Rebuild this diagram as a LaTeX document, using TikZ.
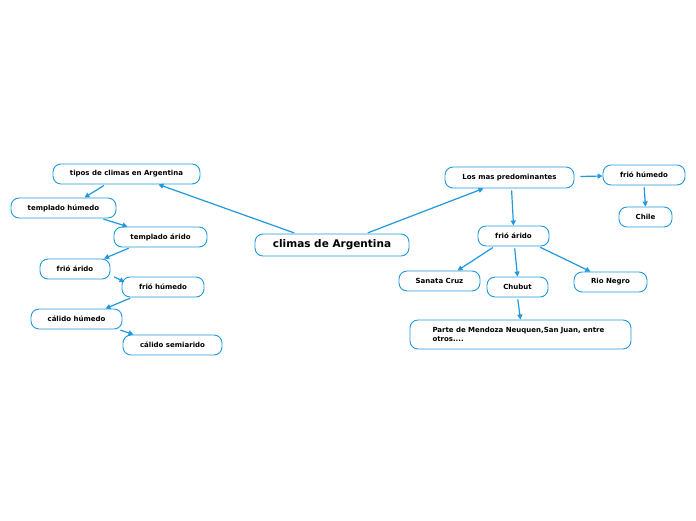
\documentclass[tikz,border=0pt]{standalone}
\usepackage{fontspec}
\setmainfont{DejaVu Sans}
\usepackage{tikz}
\usetikzlibrary{arrows.meta,positioning,calc}
\definecolor{mmblue}{RGB}{30,152,222}

\begin{document}
\begin{tikzpicture}[x=1pt, y=-1pt,
    topic/.style={rectangle, draw=mmblue, line width=0.9pt, rounded corners=8pt, minimum height=20pt, inner sep=2pt, font=\fontsize{7}{8.5}\selectfont\bfseries},
    link/.style={-{Triangle[length=5pt,width=5pt]}, draw=mmblue, line width=1.2pt, shorten <=2pt}
]
\useasboundingbox (0,0) rectangle (696,520);

% centre
\node[topic, minimum width=154pt, minimum height=22pt, font=\fontsize{10.5}{12}\selectfont\bfseries] (root) at (332,245) {climas de Argentina};

% left branch
\node[topic, minimum width=147pt] (tipos) at (126.5,174) {tipos de climas en Argentina};
\node[topic, minimum width=105pt] (tplhum) at (63.5,208) {templado húmedo};
\node[topic, minimum width=93pt] (tplari) at (160.5,237) {templado árido};
\node[topic, minimum width=70pt] (frari) at (75,269) {frió árido};
\node[topic, minimum width=82pt] (frhum) at (163,287) {frió húmedo};
\node[topic, minimum width=91pt] (calhum) at (76.5,319) {cálido húmedo};
\node[topic, minimum width=99pt] (calsemi) at (172.5,345) {cálido semiarido};

% right branch
\node[topic, minimum width=129pt, minimum height=21pt] (pred) at (509.5,177.5) {Los mas predominantes};
\node[topic, minimum width=82pt] (frhumR) at (644,175) {frió húmedo};
\node[topic, minimum width=53pt] (chile) at (645.5,217) {Chile};
\node[topic, minimum width=71pt] (frariR) at (513.5,236) {frió árido};
\node[topic, minimum width=81pt] (santa) at (439.5,281) {Sanata Cruz};
\node[topic, minimum width=61pt] (chubut) at (517.5,287) {Chubut};
\node[topic, minimum width=73pt] (rionegro) at (610.5,282) {Rio Negro};
\node[topic, minimum width=221pt, minimum height=29pt, text width=176pt, align=left] (mendoza) at (520.5,334.5) {Parte de Mendoza Neuquen,San Juan, entre\\otros....};

% connectors
\draw[link] ($(root.north)+(-36,0)$) -- ($(tipos.south east)+(-42,0)$);
\draw[link] ($(root.north)+(34,0)$) -- ($(pred.south)+(-26,0)$);

\draw[link] ($(tipos.south)+(-21,0)$) -- ($(tplhum.north)+(21,0)$);
\draw[link] ($(tplhum.south)+(38,0)$) -- ($(tplari.north)+(-33,0)$);
\draw[link] ($(tplari.south)+(-30,0)$) -- ($(frari.north)+(29,0)$);
\draw[link] ($(frari.east)+(2,7)$) -- ($(frhum.west)+(3,-5)$);
\draw[link] ($(frhum.south)+(-31,0)$) -- ($(calhum.north)+(29,0)$);
\draw[link] ($(calhum.south east)+(-4,0)$) -- ($(calsemi.north west)+(11,0)$);

\draw[link] ($(pred.south)+(2,0)$) -- (frariR.north);
\draw[link] ($(pred.east)+(4,-1)$) -- ($(frhumR.west)+(0,1)$);
\draw[link] (frhumR.south) -- (chile.north);
\draw[link] ($(frariR.south)+(-19,0)$) -- ($(santa.north)+(18,0)$);
\draw[link] ($(frariR.south)+(1,0)$) -- (chubut.north);
\draw[link] ($(frariR.south)+(25,0)$) -- ($(rionegro.north)+(-20,0)$);
\draw[link] (chubut.south) -- (mendoza.north);

\end{tikzpicture}
\end{document}
